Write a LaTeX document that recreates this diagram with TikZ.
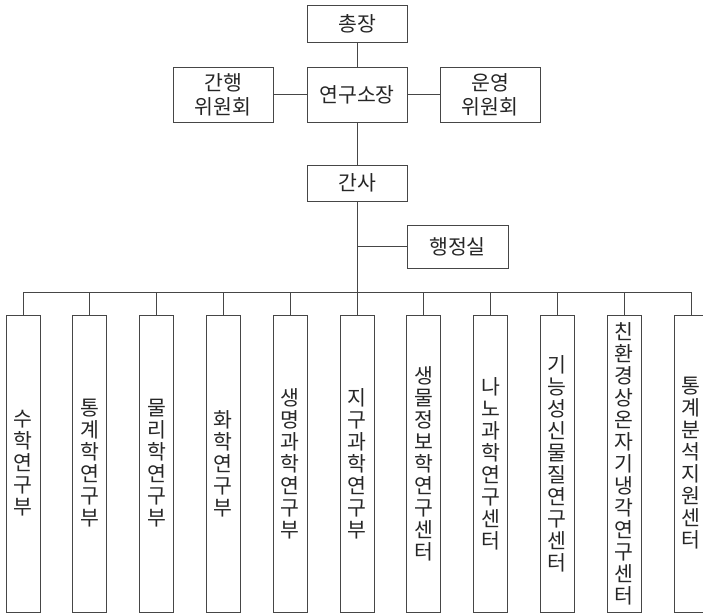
\documentclass[tikz,border=0pt]{standalone}
\usepackage{fontspec}
\setmainfont{Noto Sans CJK KR}
\usepackage{xcolor}
\usepackage{tikz}
\usetikzlibrary{positioning, calc}
\definecolor{linegray}{RGB}{70,70,70}

\begin{document}
\begin{tikzpicture}[x=1pt, y=-1pt,
    every node/.style={font=\fontsize{20.5}{22}\selectfont, inner sep=0pt, text=black!85},
    topbox/.style={draw=linegray, line width=1pt, minimum width=100pt, align=center},
    deptbox/.style={draw=linegray, line width=1pt, minimum width=34pt, minimum height=297pt, text width=22pt, align=center},
    conn/.style={linegray, line width=1pt}]
            \useasboundingbox (0,0) rectangle (703,613);
            % top of the chart
            \node[topbox, minimum height=37pt] (pres) at (357,23.5) {총장};
            \node[topbox, minimum height=55pt] (dir) at (357,94.5) {연구소장};
            \node[topbox, minimum height=55pt, font=\fontsize{20.5}{24}\selectfont] (pub) at (223,94.5) {간행\\위원회};
            \node[topbox, minimum height=55pt, font=\fontsize{20.5}{24}\selectfont] (ops) at (490,94.5) {운영\\위원회};
            \node[topbox, minimum height=36pt] (sec) at (357,183) {간사};
            \node[topbox, minimum width=101pt, minimum height=43pt] (adm) at (457.5,246.5) {행정실};
            \coordinate (admjoin) at (357,246.5);
            \draw[conn] (pres) -- (dir);
            \draw[conn] (pub) -- (dir);
            \draw[conn] (dir) -- (ops);
            \draw[conn] (dir) -- (sec);
            \draw[conn] (admjoin) -- (adm.west);
            % research departments
            \foreach \lbl [count=\i from 0] in {
                {수\\학\\연\\구\\부},
                {통\\계\\학\\연\\구\\부},
                {물\\리\\학\\연\\구\\부},
                {화\\학\\연\\구\\부},
                {생\\명\\과\\학\\연\\구\\부},
                {지\\구\\과\\학\\연\\구\\부},
                {생\\물\\정\\보\\학\\연\\구\\센\\터},
                {나\\노\\과\\학\\연\\구\\센\\터},
                {기\\능\\성\\신\\물\\질\\연\\구\\센\\터},
                {친\\환\\경\\상\\온\\자\\기\\냉\\각\\연\\구\\센\\터},
                {통\\계\\분\\석\\지\\원\\센\\터}} {
                \node[deptbox] (d\i) at ({23+66.8*\i},463.5) {\lbl};
                \coordinate (bus\i) at ({23+66.8*\i},292);
                \draw[conn] (bus\i) -- (d\i.north);
            }
            \draw[conn] (bus0) -- (bus10);
            \draw[conn] (sec) -- (bus5);
        \end{tikzpicture}
\end{document}
